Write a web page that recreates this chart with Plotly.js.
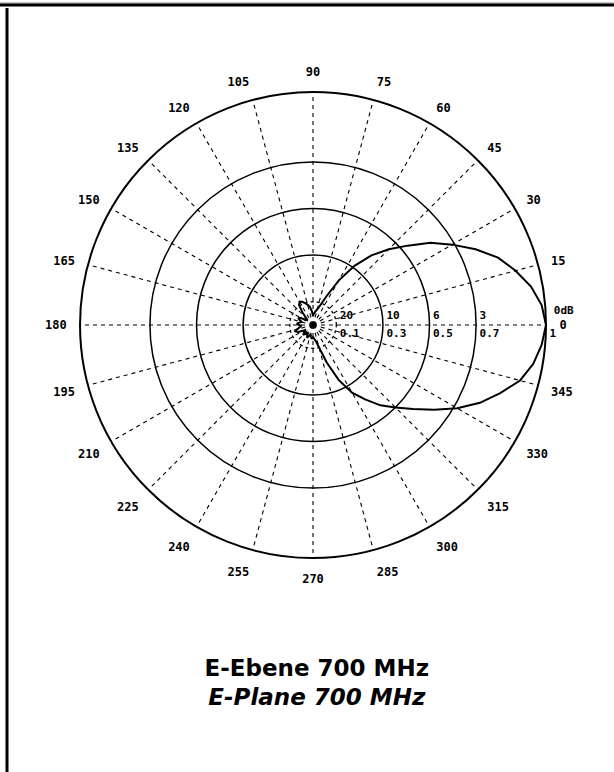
<!DOCTYPE html>
<html>
<head>
<meta charset="utf-8">
<script src="https://cdn.plot.ly/plotly-3.0.1.min.js"></script>
<style>html,body{margin:0;padding:0;background:#fff;}#chart{width:614px;height:772px;}</style>
</head>
<body>
<div id="chart"></div>
<script>
// Pattern angles (degrees) and relative field amplitude
const patternTheta = [0,5,10,15,20,25,30,35,40,45,50,55,60,65,70,75,80,85,90,95,100,105,110,115,120,125,130,135,140,145,150,155,160,165,170,175,180,185,190,195,200,205,210,215,220,225,230,235,240,245,250,255,260,265,270,275,280,285,290,295,300,305,310,315,320,325,330,335,340,345,350,355,360];
const patternR = [1.0,0.985,0.95,0.90,0.845,0.77,0.69,0.615,0.53,0.46,0.39,0.31,0.22,0.135,0.09,0.07,0.06,0.05,0.04,0.06,0.08,0.09,0.10,0.11,0.115,0.105,0.07,0.04,0.03,0.04,0.06,0.07,0.06,0.05,0.06,0.07,0.06,0.05,0.06,0.07,0.08,0.07,0.05,0.04,0.05,0.06,0.05,0.04,0.05,0.06,0.05,0.04,0.05,0.06,0.05,0.06,0.07,0.10,0.17,0.26,0.335,0.39,0.45,0.50,0.56,0.635,0.715,0.79,0.855,0.92,0.96,0.985,1.0];

// Ring values and their labels
const ringVals = [0.1, 0.3, 0.5, 0.7, 1.0];
const dbLabels = ["20", "10", "6", "3", "0dB"];
const ampLabels = ["0.1", "0.3", "0.5", "0.7", "1"];

// Angular ticks
const angleTicks = [0,15,30,45,60,75,90,105,120,135,150,165,180,195,210,225,240,255,270,285,300,315,330,345];
const angleLabels = angleTicks.map(String);

const innerRingTheta = [];
for (let a = 0; a <= 360; a += 5) innerRingTheta.push(a);
const innerRingR = innerRingTheta.map(() => ringVals[0]);

const labelFont = {family: "DejaVu Sans Mono", size: 12, color: "#000", weight: "bold"};
const ringFont = {family: "DejaVu Sans Mono", size: 11, color: "#000", weight: "bold"};
const hiddenMarker = {size: 4, color: "rgba(255,255,255,0)"};
const hiddenMarkerOuter = {size: 11, color: "rgba(255,255,255,0)"};
const nInner = ringVals.length - 1;

function ringLabelTrace(r, text, pos, marker) {
  return {
    type: "scatterpolar", mode: "markers+text",
    r: r, theta: r.map(() => 0),
    text: text, textposition: pos, marker: marker,
    textfont: ringFont, hoverinfo: "skip", showlegend: false, cliponaxis: false
  };
}

const traces = [
  {
    type: "scatterpolar", mode: "lines",
    r: innerRingR, theta: innerRingTheta,
    line: {color: "#000", width: 1.3, dash: "dot"},
    hoverinfo: "skip", showlegend: false
  },
  {
    type: "scatterpolar", mode: "lines",
    r: patternR, theta: patternTheta,
    line: {color: "#000", width: 2},
    showlegend: false
  },
  ringLabelTrace(ringVals.slice(0, nInner), dbLabels.slice(0, nInner), "top right", hiddenMarker),
  ringLabelTrace(ringVals.slice(nInner), dbLabels.slice(nInner), "top right", hiddenMarkerOuter),
  ringLabelTrace(ringVals, ampLabels, "bottom right", hiddenMarker)
];

const layout = {
  width: 614, height: 772,
  margin: {l: 0, r: 0, t: 0, b: 0},
  paper_bgcolor: "#fff",
  showlegend: false,
  title: {
    text: "<b>E-Ebene 700 MHz</b><br><b><i>E-Plane 700 MHz</i></b>",
    font: {family: "DejaVu Sans", size: 23, color: "#000"},
    x: 0.516, xanchor: "center",
    y: 0.125, yanchor: "middle",
    xref: "paper", yref: "container"
  },
  polar: {
    domain: {x: [0.1303, 0.8893], y: [0.2772, 0.8808]},
    bgcolor: "#fff",
    radialaxis: {
      range: [0, 1],
      tickvals: [0.3, 0.5, 0.7],
      showticklabels: false,
      ticks: "",
      showline: false,
      gridcolor: "#000",
      gridwidth: 1.5
    },
    angularaxis: {
      rotation: 0,
      direction: "counterclockwise",
      tickvals: angleTicks,
      ticktext: angleLabels,
      tickfont: labelFont,
      ticks: "outside", ticklen: 10, tickcolor: "#fff",
      showline: true, linecolor: "#000", linewidth: 2,
      gridcolor: "#000", gridwidth: 1.1, griddash: "4px,4px"
    }
  },
  shapes: [
    {type: "line", xref: "paper", yref: "paper", x0: 0, x1: 1, y0: 1 - 3/772, y1: 1 - 3/772, line: {color: "#888", width: 1}},
    {type: "line", xref: "paper", yref: "paper", x0: 0, x1: 1, y0: 1 - 5/772, y1: 1 - 5/772, line: {color: "#000", width: 3}},
    {type: "line", xref: "paper", yref: "paper", x0: 7/614, x1: 7/614, y0: 0, y1: 1 - 8/772, line: {color: "#000", width: 3}}
  ]
};

Plotly.newPlot("chart", traces, layout, {displayModeBar: false, staticPlot: true});
</script>
</body>
</html>
